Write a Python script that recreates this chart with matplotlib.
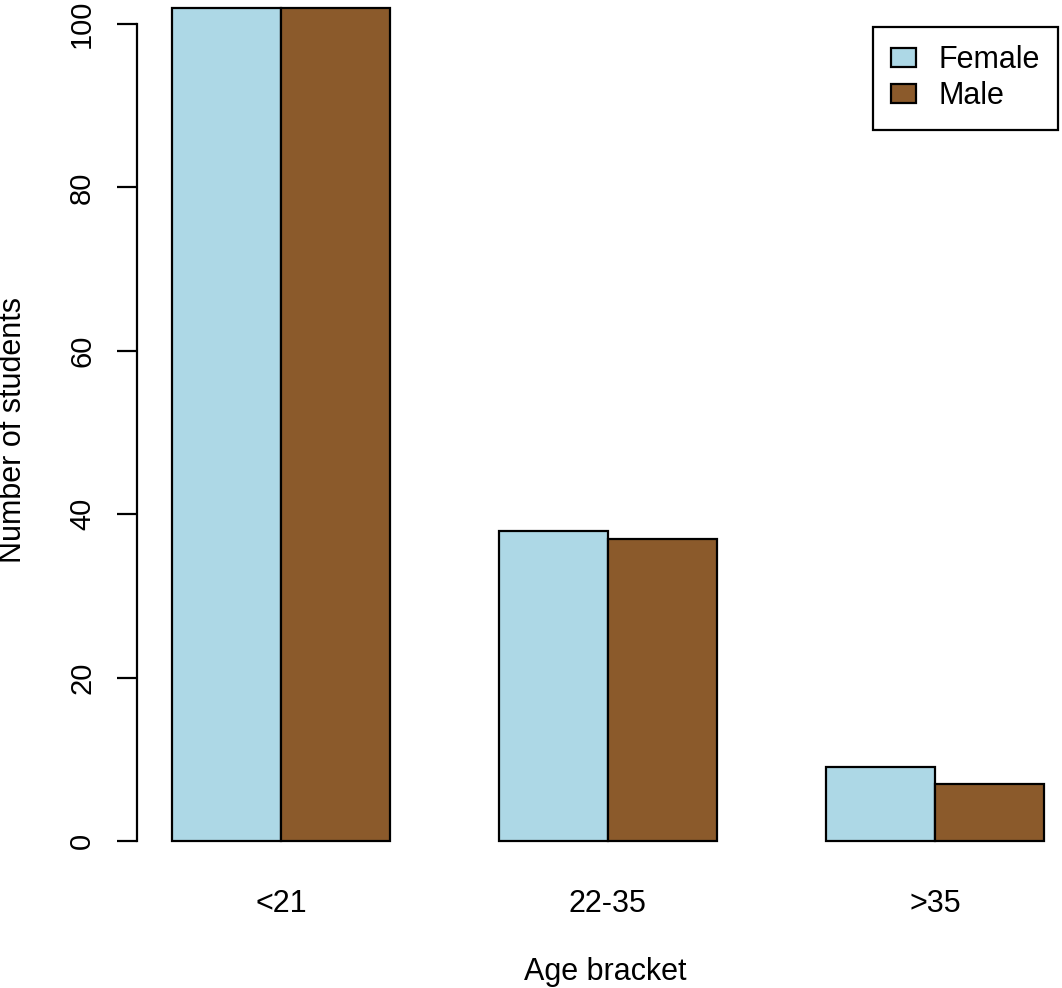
import matplotlib
matplotlib.use('Agg')
import matplotlib.pyplot as plt
from matplotlib.patches import Patch

# data
age_groups = ['<21', '22-35', '>35']
female = [102, 38, 9]
male = [102, 37, 7]
series_names = ['Female', 'Male']
series_colors = ['#ADD8E6', '#8B5A2B']
y_ticks = [0, 20, 40, 60, 80, 100]

plt.rcParams['font.family'] = ['Liberation Sans', 'DejaVu Sans']

W, H = 1062, 988
fig = plt.figure(figsize=(W / 100, H / 100), dpi=100)

# plot region in pixels (R barplot style layout)
left_px, right_px, top_px, bottom_px = 137, 1062, 0, 874
ax = fig.add_axes([left_px / W, (H - bottom_px) / H,
                   (right_px - left_px) / W, (bottom_px - top_px) / H])

# R barplot(beside=TRUE): space of 1 before each group, bars of width 1
female_x = [1 + 3 * i for i in range(len(age_groups))]
male_x = [2 + 3 * i for i in range(len(age_groups))]
centers = [2 + 3 * i for i in range(len(age_groups))]

ax.bar(female_x, female, width=1, align='edge', color=series_colors[0],
       edgecolor='black', linewidth=1.6)
ax.bar(male_x, male, width=1, align='edge', color=series_colors[1],
       edgecolor='black', linewidth=1.6)

ax.set_xlim(0.68, 0.68 + (right_px - left_px) / 109)
ax.set_ylim(-4.04, 102.94)

for s in ['top', 'right', 'bottom']:
    ax.spines[s].set_visible(False)
ax.spines['left'].set_bounds(0, 100)
ax.spines['left'].set_linewidth(1.6)

fs = 22
ax.set_yticks(y_ticks)
ax.set_yticklabels([str(t) for t in y_ticks], rotation=90, va='center')
ax.tick_params(axis='y', length=14.5, width=1.6, pad=15, labelsize=21)

ax.set_xticks(centers)
ax.set_xticklabels(age_groups)
ax.tick_params(axis='x', length=0, pad=11, labelsize=fs)

ax.set_xlabel('Age bracket', fontsize=fs, va='center')
ax.xaxis.set_label_coords(0.506, (bottom_px - 972) / (bottom_px - top_px))
ax.set_ylabel('Number of students', fontsize=fs, va='center')
ax.yaxis.set_label_coords((13 - left_px) / (right_px - left_px),
                          (bottom_px - 430) / (bottom_px - top_px))

handles = [Patch(facecolor=c, edgecolor='black', linewidth=1.6) for c in series_colors]
leg = ax.legend(handles, series_names, loc='upper left',
                bbox_to_anchor=(873 / W, 1 - 27 / H), bbox_transform=fig.transFigure,
                borderaxespad=0, fontsize=fs, fancybox=False, framealpha=1,
                edgecolor='black', borderpad=0.6, labelspacing=0.2,
                handlelength=0.82, handleheight=0.6, handletextpad=0.72)
leg.get_frame().set_linewidth(1.6)

fig.savefig('out.png', dpi=100)
